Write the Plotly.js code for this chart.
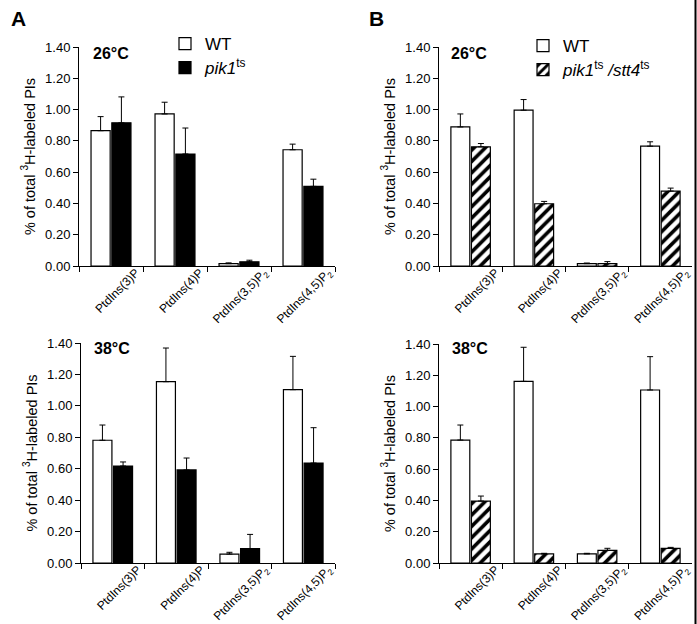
<!DOCTYPE html>
<html>
<head>
<meta charset="utf-8">
<script src="https://cdn.plot.ly/plotly-3.0.1.min.js"></script>
<style>
html,body{margin:0;padding:0;background:#fff;}
#chart{width:697px;height:624px;}
</style>
</head>
<body>
<div id="chart"></div>
<script>
// Categories (tick labels)
const categories = ["PtdIns(3)P", "PtdIns(4)P", "PtdIns(3,5)P<sub>2</sub>", "PtdIns(4,5)P<sub>2</sub>"];

// Panel A, 26°C
const a26WT = [0.865, 0.972, 0.015, 0.743];
const a26WTErr = [0.090, 0.075, 0.005, 0.036];
const a26Pik1 = [0.915, 0.716, 0.027, 0.509];
const a26Pik1Err = [0.166, 0.166, 0.010, 0.046];

// Panel A, 38°C
const a38WT = [0.781, 1.154, 0.057, 1.103];
const a38WTErr = [0.097, 0.214, 0.011, 0.212];
const a38Pik1 = [0.617, 0.592, 0.091, 0.636];
const a38Pik1Err = [0.026, 0.076, 0.091, 0.225];

// Panel B, 26°C
const b26WT = [0.889, 0.996, 0.015, 0.766];
const b26WTErr = [0.083, 0.068, 0.004, 0.028];
const b26Mut = [0.762, 0.398, 0.015, 0.479];
const b26MutErr = [0.021, 0.015, 0.013, 0.019];

// Panel B, 38°C
const b38WT = [0.786, 1.161, 0.058, 1.106];
const b38WTErr = [0.096, 0.218, 0.004, 0.213];
const b38Mut = [0.396, 0.058, 0.081, 0.094];
const b38MutErr = [0.032, 0.004, 0.013, 0.006];

const noLower = [0, 0, 0, 0];

const W = 697, H = 624;
const px = v => v / W;
const py = v => 1 - v / H;

function errBar(arr) {
  return {type: 'data', symmetric: false, array: arr, arrayminus: noLower,
          color: '#000', thickness: 1, width: 3};
}
function wtTrace(vals, err, xa, ya, show, leg) {
  return {type: 'bar', x: categories, y: vals, xaxis: xa, yaxis: ya, name: 'WT',
    marker: {color: '#fff', line: {color: '#000', width: 1.2}},
    error_y: errBar(err), showlegend: show, legend: leg, hoverinfo: 'y'};
}
function blackTrace(vals, err, xa, ya, show) {
  return {type: 'bar', x: categories, y: vals, xaxis: xa, yaxis: ya,
    name: '<i>pik1</i><sup>ts</sup>',
    marker: {color: '#000', line: {color: '#000', width: 1.2}},
    error_y: errBar(err), showlegend: show, legend: 'legend2', hoverinfo: 'y'};
}
function hatchTrace(vals, err, xa, ya, show) {
  return {type: 'bar', x: categories, y: vals, xaxis: xa, yaxis: ya,
    name: '<i>pik1</i><sup>ts</sup> <i>/stt4</i><sup>ts</sup>',
    marker: {color: '#fff', line: {color: '#000', width: 1.2},
      pattern: {shape: '/', fgcolor: '#000', bgcolor: '#fff', size: 8, solidity: 0.45}},
    error_y: errBar(err), showlegend: show, legend: 'legend4', hoverinfo: 'y'};
}

const data = [
  wtTrace(a26WT, a26WTErr, 'x', 'y', true, 'legend'),
  blackTrace(a26Pik1, a26Pik1Err, 'x', 'y', true),
  wtTrace(b26WT, b26WTErr, 'x2', 'y2', true, 'legend3'),
  hatchTrace(b26Mut, b26MutErr, 'x2', 'y2', true),
  wtTrace(a38WT, a38WTErr, 'x3', 'y3', false, 'legend'),
  blackTrace(a38Pik1, a38Pik1Err, 'x3', 'y3', false),
  wtTrace(b38WT, b38WTErr, 'x4', 'y4', false, 'legend3'),
  hatchTrace(b38Mut, b38MutErr, 'x4', 'y4', false)
];

const FAM = 'Liberation Sans, Arial, sans-serif';
const tickFont = {family: FAM, size: 13, color: '#000'};
const xTickFont = {family: FAM, size: 12, color: '#000'};
function xAx(x0, x1, anchor) {
  return {domain: [px(x0), px(x1)], anchor: anchor, type: 'category',
    showline: true, linecolor: '#000', linewidth: 1, ticks: 'outside', tickson: 'boundaries',
    ticklen: 5, tickcolor: '#000', tickangle: -45, tickfont: xTickFont,
    ticklabelshift: 25, ticklabelstandoff: -6,
    showgrid: false, zeroline: false, fixedrange: true};
}
function yAx(yTop, yBot, anchor) {
  return {domain: [py(yBot), py(yTop)], anchor: anchor, range: [0, 1.4], dtick: 0.2,
    tickformat: '.2f', showline: true, linecolor: '#000', linewidth: 1, ticks: 'outside',
    ticklen: 5, tickcolor: '#000', tickfont: tickFont, showgrid: false, zeroline: false,
    title: {text: '% of total <sup>3</sup>H-labeled PIs', font: {family: FAM, size: 14.5, color: '#000'}, standoff: 6},
    fixedrange: true};
}

const bold = (s) => ({family: FAM, size: s, color: '#000', weight: 'bold'});
function ann(text, x, y, size) {
  return {text: '<b>' + text + '</b>', xref: 'paper', yref: 'paper', x: px(x), y: py(y),
    xanchor: 'left', yanchor: 'middle', showarrow: false, font: bold(size)};
}

const legFont = {family: FAM, size: 17, color: '#000'};
function leg(cx, cy) {
  return {x: px(cx - 18), y: py(cy), xanchor: 'left', yanchor: 'middle', font: legFont,
    bgcolor: 'rgba(0,0,0,0)', borderwidth: 0, tracegroupgap: 0};
}

const layout = {
  width: W, height: H,
  margin: {l: 0, r: 0, t: 0, b: 0},
  paper_bgcolor: '#fff', plot_bgcolor: '#fff',
  barmode: 'group', bargap: 0.35, bargroupgap: 0.08,
  font: tickFont,
  xaxis: xAx(79, 335, 'y'),
  yaxis: yAx(47, 266, 'x'),
  xaxis2: xAx(439, 692, 'y2'),
  yaxis2: yAx(47, 266, 'x2'),
  xaxis3: xAx(81, 335, 'y3'),
  yaxis3: yAx(343, 563, 'x3'),
  xaxis4: xAx(439, 692, 'y4'),
  yaxis4: yAx(344, 563, 'x4'),
  legend: leg(183, 44),
  legend2: leg(183, 68),
  legend3: leg(541, 46),
  legend4: leg(541, 70),
  annotations: [
    ann('A', 9, 18, 21),
    ann('B', 367, 18, 21),
    ann('26°C', 91, 53, 16),
    ann('26°C', 449, 53, 16),
    ann('38°C', 92, 348, 16),
    ann('38°C', 450, 348, 16)
  ],
  shapes: [
    {type: 'line', xref: 'paper', yref: 'paper', x0: px(695.5), x1: px(695.5), y0: 0, y1: 1,
     line: {color: '#000', width: 2}}
  ]
};

Plotly.newPlot('chart', data, layout, {displayModeBar: false, staticPlot: true});
</script>
</body>
</html>
